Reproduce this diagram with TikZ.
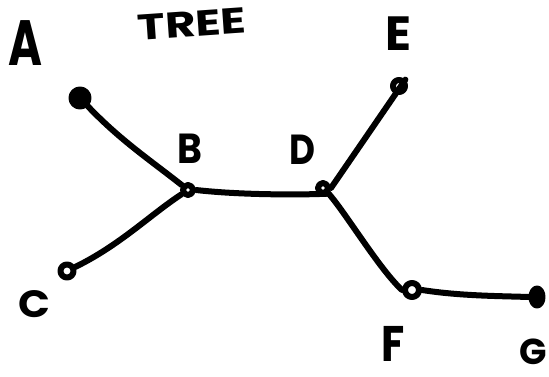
\documentclass[tikz,border=0pt]{standalone}
\usepackage{fontspec}
\usetikzlibrary{shapes.geometric}
\setmainfont{Poppins}
\begin{document}
\begin{tikzpicture}[x=1pt,y=-1pt,
  stroke/.style={line width=6pt,line cap=round,line join=round},
  vtx/.style={circle,draw,stroke,inner sep=0pt,minimum size=#1},
  lbl/.style={inner sep=0pt}]
\useasboundingbox (0,0) rectangle (549,377);
% vertices
\node[vtx=17pt,fill=black] (A) at (80,98) {};
\node[vtx=10pt] (B) at (188,190) {};
\node[vtx=13pt] (C) at (67,271) {};
\node[vtx=10pt] (D) at (323,188) {};
\node[vtx=12pt] (E) at (399,86) {};
\node[vtx=14pt] (F) at (412,290) {};
\node[draw,stroke,fill=black,ellipse,inner sep=0pt,minimum width=11pt,minimum height=17pt] (G) at (537,297) {};
% edges
\draw[stroke] (A) .. controls (120,140) and (150,160) .. (B);
\draw[stroke] (B) .. controls (150,215) and (120,245) .. (C);
\draw[stroke] (B.east) .. controls (240,195) and (300,195) .. (D.south east);
\draw[stroke] (D.east) -- (E.north east);
\draw[stroke] (D.south east) .. controls (345,212) and (380,270) .. (F.west);
\draw[stroke] (F.east) .. controls (460,296) and (500,296) .. (G.west);
% labels
\node[lbl,font=\bfseries\fontsize{64}{64}\selectfont,xscale=0.72] (tA) at (25,43) {A};
\node[lbl,font=\bfseries\fontsize{36}{36}\selectfont,rotate=4,xscale=1.3] (tT) at (192,24) {TREE};
\node[lbl,font=\bfseries\fontsize{42}{42}\selectfont,xscale=0.9] (tB) at (190,149) {B};
\node[lbl,font=\bfseries\fontsize{42}{42}\selectfont,xscale=0.85] (tD) at (302,150) {D};
\node[lbl,font=\bfseries\fontsize{48}{48}\selectfont] (tE) at (398,34) {E};
\node[lbl,font=\bfseries\fontsize{38}{38}\selectfont,xscale=1.1] (tC) at (34,304) {C};
\node[lbl,font=\bfseries\fontsize{50}{50}\selectfont,xscale=0.85] (tF) at (393,344) {F};
\node[lbl,font=\bfseries\fontsize{36}{36}\selectfont] (tG) at (533,352) {G};
\end{tikzpicture}
\end{document}
